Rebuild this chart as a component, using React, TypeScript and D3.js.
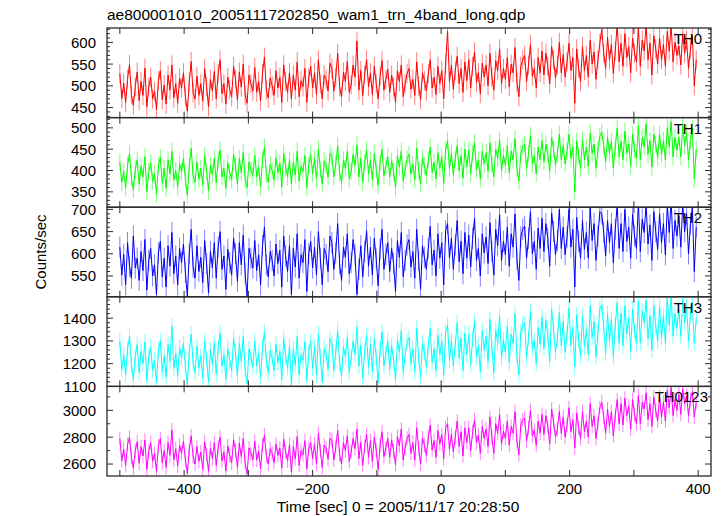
import React from "react";
import * as d3 from "d3";

const TITLE = "ae800001010_20051117202850_wam1_trn_4band_long.qdp";
const X_LABEL = "Time [sec] 0 = 2005/11/17 20:28:50";
const Y_LABEL = "Counts/sec";

const T_START = -500;
const T_STEP = 3;

const TH0 = [
  528, 471, 506, 462, 515, 549, 480, 455, 498, 532,
  466, 510, 478, 541, 452, 497, 520, 470, 488, 445,
  512, 535, 468, 502, 458, 525, 490, 548, 472, 505,
  460, 518, 495, 530, 475, 442, 508, 556, 484, 470,
  522, 478, 505, 465, 540, 498, 452, 515, 488, 533,
  470, 528, 560, 482, 505, 458, 520, 492, 475, 545,
  515, 468, 532, 497, 550, 478, 460, 525, 505, 488,
  542, 485, 510, 465, 528, 566, 490, 472, 518, 500,
  478, 535, 495, 520, 462, 548, 510, 485, 530, 470,
  525, 490, 555, 475, 512, 498, 540, 462, 518, 545,
  495, 530, 480, 560, 505, 470, 525, 515, 488, 552,
  540, 488, 520, 575, 498, 475, 532, 510, 556, 485,
  502, 548, 520, 603, 490, 535, 478, 525, 560, 498,
  530, 480, 545, 505, 470, 522, 558, 490, 515, 538,
  485, 525, 498, 462, 535, 510, 548, 475, 505, 528,
  540, 492, 515, 478, 555, 500, 468, 530, 512, 488,
  528, 560, 495, 520, 480, 545, 505, 535, 470, 550,
  626, 510, 548, 492, 535, 568, 505, 540, 485, 555,
  512, 560, 495, 545, 578, 508, 530, 482, 552, 520,
  548, 500, 575, 520, 490, 558, 535, 585, 505, 540,
  515, 565, 498, 550, 530, 588, 508, 475, 545, 560,
  570, 510, 548, 595, 522, 540, 495, 565, 530, 580,
  525, 575, 545, 505, 590, 560, 518, 548, 600, 530,
  572, 520, 555, 598, 535, 565, 460, 585, 540, 510,
  590, 535, 570, 520, 605, 550, 578, 515, 560, 598,
  630, 575, 540, 612, 560, 595, 528, 580, 642, 555,
  598, 545, 620, 565, 590, 530, 610, 575, 555, 635,
  545, 605, 580, 640, 560, 598, 525, 615, 585, 550,
  610, 560, 595, 545, 625, 580, 638, 555, 600, 570,
  592, 548, 620, 575, 605, 540, 585, 615, 500, 560,
];

const TH1 = [
  420, 372, 398, 360, 412, 440, 383, 355, 402, 425,
  368, 410, 385, 432, 350, 398, 418, 375, 392, 345,
  412, 430, 370, 405, 358, 425, 392, 445, 378, 400,
  362, 415, 398, 428, 380, 342, 410, 452, 388, 372,
  420, 380, 405, 365, 435, 398, 352, 412, 390, 428,
  372, 425, 448, 385, 405, 358, 418, 395, 378, 438,
  410, 368, 428, 395, 442, 380, 360, 420, 402, 388,
  435, 385, 408, 362, 425, 455, 392, 372, 415, 400,
  378, 430, 395, 418, 362, 440, 408, 385, 425, 368,
  420, 390, 445, 375, 410, 398, 435, 360, 412, 438,
  392, 428, 380, 450, 402, 368, 422, 412, 385, 440,
  432, 385, 415, 458, 395, 372, 425, 405, 445, 380,
  398, 438, 412, 460, 385, 428, 372, 418, 448, 392,
  425, 378, 440, 402, 365, 418, 450, 388, 410, 432,
  385, 422, 398, 360, 435, 408, 445, 375, 402, 428,
  438, 392, 415, 378, 452, 400, 368, 430, 410, 388,
  425, 455, 395, 420, 380, 442, 405, 432, 370, 448,
  470, 405, 440, 390, 428, 458, 400, 435, 382, 450,
  408, 448, 392, 440, 465, 402, 425, 380, 445, 415,
  442, 398, 465, 415, 385, 450, 428, 472, 400, 435,
  412, 458, 395, 445, 425, 475, 405, 375, 440, 455,
  462, 405, 440, 482, 415, 435, 392, 455, 425, 470,
  420, 462, 438, 398, 478, 450, 412, 440, 485, 425,
  458, 415, 445, 485, 428, 455, 350, 470, 435, 405,
  472, 425, 455, 410, 488, 440, 462, 405, 448, 480,
  490, 458, 420, 478, 440, 468, 405, 455, 500, 432,
  468, 425, 492, 440, 462, 410, 485, 448, 428, 505,
  425, 478, 455, 510, 438, 470, 408, 485, 460, 430,
  485, 438, 470, 425, 500, 455, 515, 432, 478, 448,
  478, 432, 505, 458, 488, 425, 470, 498, 380, 450,
];

const TH2 = [
  615, 552, 598, 530, 625, 572, 545, 640, 568, 590,
  540, 605, 562, 632, 518, 585, 612, 550, 575, 508,
  602, 628, 548, 590, 525, 618, 572, 648, 555, 595,
  530, 612, 580, 622, 558, 505, 600, 655, 570, 545,
  618, 560, 592, 535, 630, 578, 512, 605, 568, 625,
  545, 615, 650, 565, 595, 520, 610, 580, 552, 635,
  600, 538, 625, 575, 642, 555, 505, 612, 590, 568,
  630, 562, 598, 530, 618, 660, 575, 548, 605, 585,
  550, 622, 578, 608, 525, 640, 595, 560, 618, 508,
  612, 570, 645, 545, 598, 580, 632, 515, 600, 628,
  568, 615, 552, 650, 590, 530, 612, 598, 560, 640,
  625, 565, 602, 668, 578, 540, 615, 592, 645, 555,
  580, 632, 598, 508, 565, 618, 548, 605, 652, 572,
  615, 552, 635, 588, 528, 610, 655, 565, 598, 625,
  560, 612, 578, 515, 630, 592, 648, 548, 585, 620,
  632, 570, 605, 545, 655, 585, 520, 618, 592, 565,
  612, 662, 575, 608, 550, 645, 590, 625, 530, 652,
  668, 590, 635, 565, 620, 675, 582, 628, 555, 648,
  590, 642, 570, 635, 680, 585, 612, 550, 645, 602,
  638, 578, 670, 605, 552, 655, 618, 688, 585, 628,
  598, 660, 572, 645, 615, 690, 588, 540, 638, 655,
  662, 590, 635, 695, 600, 628, 565, 658, 612, 680,
  605, 668, 635, 572, 692, 650, 598, 630, 700, 612,
  660, 598, 638, 700, 615, 655, 525, 682, 628, 590,
  675, 610, 648, 590, 705, 630, 668, 585, 640, 695,
  690, 648, 595, 675, 625, 668, 580, 655, 710, 612,
  668, 605, 700, 628, 660, 590, 690, 640, 612, 715,
  605, 678, 648, 712, 622, 665, 585, 695, 650, 610,
  690, 625, 668, 598, 710, 648, 720, 612, 675, 640,
  685, 615, 712, 650, 690, 600, 668, 705, 560, 660,
];

const TH3 = [
  1300, 1175, 1240, 1150, 1265, 1320, 1195, 1130, 1230, 1285,
  1160, 1255, 1200, 1295, 1125, 1230, 1275, 1170, 1215, 1115,
  1260, 1300, 1165, 1235, 1140, 1285, 1210, 1365, 1180, 1245,
  1145, 1270, 1225, 1290, 1190, 1108, 1250, 1330, 1205, 1160,
  1275, 1180, 1235, 1135, 1300, 1220, 1120, 1260, 1195, 1290,
  1155, 1270, 1335, 1190, 1240, 1130, 1265, 1215, 1170, 1310,
  1250, 1145, 1290, 1210, 1320, 1175, 1112, 1265, 1230, 1185,
  1300, 1190, 1245, 1140, 1275, 1340, 1215, 1160, 1260, 1225,
  1170, 1285, 1205, 1255, 1130, 1310, 1235, 1180, 1280, 1105,
  1265, 1195, 1320, 1150, 1240, 1215, 1295, 1125, 1250, 1300,
  1180, 1275, 1150, 1330, 1230, 1120, 1265, 1245, 1175, 1310,
  1290, 1170, 1250, 1345, 1205, 1145, 1275, 1230, 1315, 1160,
  1225, 1300, 1240, 1360, 1190, 1280, 1135, 1255, 1325, 1185,
  1285, 1165, 1310, 1230, 1115, 1260, 1340, 1190, 1245, 1300,
  1175, 1280, 1215, 1130, 1305, 1250, 1345, 1160, 1235, 1295,
  1315, 1200, 1265, 1165, 1355, 1225, 1140, 1290, 1250, 1185,
  1280, 1355, 1205, 1265, 1170, 1325, 1240, 1300, 1150, 1340,
  1370, 1215, 1300, 1190, 1285, 1380, 1225, 1310, 1170, 1335,
  1240, 1330, 1195, 1310, 1385, 1230, 1280, 1165, 1345, 1260,
  1320, 1210, 1395, 1270, 1160, 1350, 1290, 1410, 1225, 1305,
  1250, 1365, 1205, 1330, 1290, 1420, 1235, 1150, 1340, 1370,
  1380, 1230, 1315, 1430, 1265, 1300, 1200, 1360, 1285, 1405,
  1265, 1390, 1325, 1210, 1440, 1350, 1250, 1310, 1425, 1280,
  1385, 1250, 1330, 1445, 1280, 1360, 1185, 1415, 1305, 1235,
  1410, 1275, 1350, 1240, 1455, 1315, 1385, 1230, 1335, 1440,
  1460, 1360, 1245, 1420, 1300, 1395, 1230, 1370, 1470, 1290,
  1420, 1280, 1455, 1330, 1400, 1255, 1440, 1345, 1290, 1475,
  1290, 1430, 1380, 1480, 1310, 1410, 1260, 1455, 1365, 1300,
  1450, 1315, 1410, 1290, 1490, 1370, 1500, 1320, 1420, 1355,
  1440, 1320, 1485, 1380, 1450, 1300, 1420, 1470, 1290, 1400,
];

const TH0123 = [
  2790, 2625, 2710, 2590, 2745, 2800, 2650, 2570, 2700, 2765,
  2605, 2730, 2660, 2780, 2560, 2695, 2760, 2620, 2680, 2545,
  2735, 2790, 2610, 2700, 2575, 2760, 2665, 2855, 2630, 2715,
  2585, 2740, 2680, 2770, 2630, 2530, 2705, 2810, 2655, 2600,
  2730, 2620, 2690, 2560, 2765, 2670, 2545, 2720, 2640, 2760,
  2590, 2725, 2800, 2625, 2690, 2550, 2735, 2660, 2610, 2780,
  2700, 2575, 2755, 2655, 2790, 2610, 2525, 2720, 2680, 2630,
  2770, 2630, 2695, 2565, 2740, 2815, 2660, 2600, 2715, 2680,
  2610, 2750, 2665, 2720, 2570, 2785, 2690, 2625, 2745, 2540,
  2730, 2640, 2805, 2590, 2700, 2670, 2775, 2565, 2715, 2760,
  2640, 2750, 2600, 2830, 2700, 2575, 2740, 2720, 2635, 2790,
  2780, 2630, 2725, 2850, 2670, 2600, 2760, 2700, 2810, 2620,
  2690, 2790, 2715, 2860, 2640, 2760, 2590, 2730, 2820, 2650,
  2775, 2620, 2800, 2700, 2560, 2740, 2840, 2655, 2720, 2790,
  2650, 2780, 2700, 2595, 2805, 2735, 2860, 2630, 2720, 2790,
  2820, 2680, 2760, 2630, 2870, 2720, 2600, 2795, 2740, 2665,
  2800, 2890, 2705, 2775, 2650, 2850, 2750, 2820, 2640, 2870,
  2900, 2710, 2820, 2690, 2800, 2920, 2730, 2840, 2660, 2870,
  2760, 2870, 2700, 2840, 2930, 2760, 2815, 2680, 2880, 2790,
  2860, 2730, 2950, 2800, 2680, 2900, 2830, 2970, 2750, 2845,
  2790, 2920, 2740, 2880, 2830, 2990, 2770, 2670, 2890, 2930,
  2940, 2770, 2870, 3000, 2810, 2850, 2740, 2920, 2830, 2970,
  2820, 2960, 2880, 2750, 3010, 2910, 2800, 2860, 2990, 2830,
  2950, 2800, 2890, 3020, 2840, 2930, 2720, 2980, 2870, 2790,
  2990, 2840, 2920, 2800, 3050, 2880, 2960, 2790, 2900, 3020,
  3060, 2950, 2830, 3010, 2880, 2990, 2810, 2960, 3080, 2900,
  3050, 2890, 3090, 2960, 3030, 2860, 3080, 2970, 2900, 3110,
  2900, 3060, 3010, 3130, 2930, 3050, 2880, 3100, 3000, 2920,
  3100, 2950, 3060, 2920, 3150, 3020, 3170, 2960, 3080, 3000,
  3120, 2970, 3160, 3050, 3110, 2960, 3080, 3140, 2950, 3060,
];

const PANEL_NAMES = ["TH0", "TH1", "TH2", "TH3", "TH0123"];
const PANEL_SERIES = [TH0, TH1, TH2, TH3, TH0123];
const PANEL_ERRORS = [22, 20, 24, 35, 52];
const PANEL_COLORS = ["#ff0000", "#00ff00", "#0000ff", "#00ffff", "#ff00ff"];
const PANEL_DOMAINS = [
  [427, 633],
  [314, 524],
  [503, 705],
  [1100, 1494],
  [2511, 3178],
];
const PANEL_MAJOR_TICKS = [
  [450, 500, 550, 600],
  [350, 400, 450, 500],
  [550, 600, 650, 700],
  [1100, 1200, 1300, 1400],
  [2600, 2800, 3000],
];
const PANEL_MINOR_STEP = [10, 10, 10, 20, 100];

const X_DOMAIN = [-520, 420];
const X_TICKS = [-500, -400, -300, -200, -100, 0, 100, 200, 300, 400];
const X_TICK_LABELS = [-400, -200, 0, 200, 400];

const W = 724;
const H = 516;
const M = { left: 107, right: 711, top: 28, bottom: 476 };
const FONT = "'Liberation Sans', Arial, Helvetica, sans-serif";
const FRAME = "#2a2a2a";

function fmt(v: number) {
  return v < 0 ? "\u2212" + Math.abs(v) : String(v);
}

export default function App() {
  const x = d3.scaleLinear().domain(X_DOMAIN).range([M.left, M.right]);
  const n = PANEL_NAMES.length;
  const ph = (M.bottom - M.top) / n;
  const times = d3.range(TH0.length).map((i) => T_START + i * T_STEP);

  return (
    <svg
      width={W}
      height={H}
      style={{ position: "absolute", left: 0, top: 0, background: "#fff" }}
      fontFamily={FONT}
    >
      <rect x={0} y={0} width={W} height={H} fill="#fff" />
      <text x={M.left} y={20} fontSize={15.5} fill="#000">
        {TITLE}
      </text>
      {PANEL_NAMES.map((name, pi) => {
        const top = M.top + pi * ph;
        const bot = top + ph;
        const [d0, d1] = PANEL_DOMAINS[pi];
        const y = d3.scaleLinear().domain([d0, d1]).range([bot, top]);
        const series = PANEL_SERIES[pi];
        const err = PANEL_ERRORS[pi];
        const line = d3
          .line<number>()
          .x((_, i) => x(times[i]))
          .y((v) => y(v));
        const bars = series
          .map((v, i) => {
            const px = x(times[i]).toFixed(2);
            return `M${px},${y(v - err).toFixed(2)}V${y(v + err).toFixed(2)}`;
          })
          .join("");
        const step = PANEL_MINOR_STEP[pi];
        const minor = d3
          .range(Math.ceil(d0 / step) * step, d1 + 0.001, step)
          .filter((v) => !PANEL_MAJOR_TICKS[pi].includes(v));
        const clipId = `clip-${pi}`;
        return (
          <g key={name}>
            <defs>
              <clipPath id={clipId}>
                <rect x={M.left} y={top} width={M.right - M.left} height={ph} />
              </clipPath>
            </defs>
            <g clipPath={`url(#${clipId})`}>
              <path d={bars} fill="none" stroke={PANEL_COLORS[pi]} strokeOpacity={0.5} strokeWidth={1} />
              <path d={line(series) || ""} fill="none" stroke={PANEL_COLORS[pi]} strokeWidth={1} />
            </g>
            {PANEL_MAJOR_TICKS[pi].map((v) => (
              <g key={"M" + v}>
                <line x1={M.left} x2={M.left + 6} y1={y(v)} y2={y(v)} stroke={FRAME} strokeWidth={1} />
                <line x1={M.right} x2={M.right - 6} y1={y(v)} y2={y(v)} stroke={FRAME} strokeWidth={1} />
                <text x={96} y={y(v)} dy="0.36em" textAnchor="end" fontSize={15} fill="#000">
                  {fmt(v)}
                </text>
              </g>
            ))}
            {minor.map((v) => (
              <g key={"m" + v}>
                <line x1={M.left} x2={M.left + 3} y1={y(v)} y2={y(v)} stroke={FRAME} strokeWidth={1} />
                <line x1={M.right} x2={M.right - 3} y1={y(v)} y2={y(v)} stroke={FRAME} strokeWidth={1} />
              </g>
            ))}
            {X_TICKS.map((t) => (
              <g key={"x" + t}>
                <line x1={x(t)} x2={x(t)} y1={top} y2={top + 6} stroke={FRAME} strokeWidth={1} />
                <line x1={x(t)} x2={x(t)} y1={bot} y2={bot - 6} stroke={FRAME} strokeWidth={1} />
              </g>
            ))}
            <rect
              x={M.left}
              y={top}
              width={M.right - M.left}
              height={ph}
              fill="none"
              stroke={FRAME}
              strokeWidth={1.3}
            />
            <text x={pi === n - 1 ? 708 : 702} y={top + 16} textAnchor="end" fontSize={15} fill="#000">
              {name}
            </text>
          </g>
        );
      })}
      {X_TICK_LABELS.map((t) => (
        <text key={"xl" + t} x={x(t)} y={494} textAnchor="middle" fontSize={15} fill="#000">
          {fmt(t)}
        </text>
      ))}
      <text x={398} y={512} textAnchor="middle" fontSize={15.5} fill="#000">
        {X_LABEL}
      </text>
      <text
        transform={`translate(46,${(M.top + M.bottom) / 2}) rotate(-90)`}
        textAnchor="middle"
        fontSize={15}
        fill="#000"
      >
        {Y_LABEL}
      </text>
    </svg>
  );
}
